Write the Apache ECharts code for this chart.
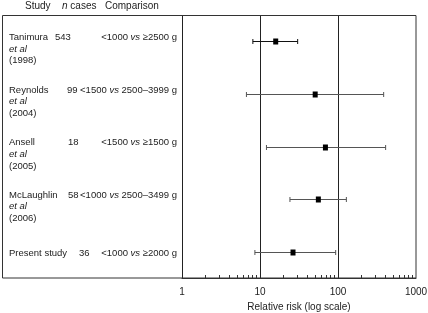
<!DOCTYPE html>
<html>
<head>
<meta charset="utf-8">
<script src="https://cdn.jsdelivr.net/npm/echarts@6/dist/echarts.min.js"></script>
<style>
  html, body { margin: 0; padding: 0; background: #fff; }
  #main { width: 428px; height: 313px; }
</style>
</head>
<body>
<div id="main"></div>
<script>
// study rows (top to bottom)
var studies = ['Tanimura', 'Reynolds', 'Ansell', 'McLaughlin', 'Present study'];
var studyYears = ['1998', '2004', '2005', '2006', ''];
var nCases = [543, 99, 18, 58, 36];
var compLeft = ['<1000', '<1500', '<1500', '<1000', '<1000'];
var compRight = ['\u22652500 g', '2500\u20133999 g', '\u22651500 g', '2500\u20133499 g', '\u22652000 g'];
// relative risk and 95% CI
var rr = [15.9, 51, 69, 56, 26.5];
var ciLow = [8.1, 6.7, 12.1, 24.2, 8.6];
var ciHigh = [30.4, 385, 408, 128, 93.4];
var xTicks = [1, 10, 100, 1000];
var minorTicks = [2, 3, 4, 5, 6, 7, 8, 9, 20, 30, 40, 50, 60, 70, 80, 90, 200, 300, 400, 500, 600, 700, 800, 900];

// left offsets of the n column (as in the original typesetting)
var nX = [55, 67, 68, 68, 79];

var font = 'Liberation Sans, Arial, Helvetica, sans-serif';
var ink = '#222';
var fs = 9.5;

var myChart = echarts.init(document.getElementById('main'));

var rows = studies.map(function (s, i) { return [rr[i], i, ciLow[i], ciHigh[i]]; });

option = {
    backgroundColor: '#fff',
    animation: false,
    grid: { left: 182, right: 12, top: 15, bottom: 35, outerBoundsMode: 'none', containLabel: false },
    xAxis: {
        type: 'log',
        logBase: 10,
        min: 1,
        max: 1000,
        name: 'Relative risk (log scale)',
        nameLocation: 'middle',
        nameGap: 23,
        nameTextStyle: { color: ink, fontSize: 10, fontFamily: font },
        axisLine: { show: true, lineStyle: { color: '#333', width: 1 } },
        axisTick: { show: false },
        axisLabel: {
            color: ink, fontSize: 10, fontFamily: font, margin: 9,
            formatter: function (v) { return xTicks.indexOf(Math.round(v)) >= 0 ? String(Math.round(v)) : ''; }
        },
        splitLine: { show: true, showMaxLine: false, lineStyle: { color: '#222', width: 1 } }
    },
    yAxis: {
        type: 'category',
        inverse: true,
        data: studies,
        axisLine: { show: false },
        axisTick: { show: false },
        axisLabel: { show: false },
        splitLine: { show: false }
    },
    graphic: [
        { type: 'rect', shape: { x: 2.5, y: 15.5, width: 413.5, height: 262.5 }, style: { fill: null, stroke: '#333', lineWidth: 1 }, z: 10 },
        { type: 'text', left: 25, top: 1, style: { text: 'Study', font: '10px ' + font, fill: ink } },
        { type: 'text', left: 62, top: 1, style: { text: '{i|n} cases', font: '10px ' + font, fill: ink, rich: { i: { fontStyle: 'italic', fontSize: 10, fontFamily: font, fill: ink } } } },
        { type: 'text', left: 105, top: 1, style: { text: 'Comparison', font: '10px ' + font, fill: ink } }
    ],
    series: [
        {
            // row labels: study, n cases, comparison
            type: 'custom',
            clip: false,
            silent: true,
            data: studies.map(function (s, i) { return [1, i]; }),
            renderItem: function (params, api) {
                var i = api.value(1);
                var y = api.coord([1, i])[1];
                var multi = studyYears[i] !== '';
                var y0 = multi ? y - 4 : y + 1.5;
                var nameText = multi ? studies[i] + '\n{i|et al}\n(' + studyYears[i] + ')' : studies[i];
                return {
                    type: 'group',
                    children: [
                        {
                            type: 'text',
                            style: {
                                x: 9, y: y0 - 5.85, text: nameText, fill: ink,
                                font: fs + 'px ' + font, lineHeight: 11.7, verticalAlign: 'top',
                                rich: { i: { fontStyle: 'italic', fontSize: fs, fontFamily: font, fill: ink, lineHeight: 11.7 } }
                            }
                        },
                        {
                            type: 'text',
                            style: { x: nX[i], y: y0, text: String(nCases[i]), fill: ink, font: fs + 'px ' + font, verticalAlign: 'middle' }
                        },
                        {
                            type: 'text',
                            style: {
                                x: 177, y: y0, text: compLeft[i] + ' {i|vs} ' + compRight[i], fill: ink,
                                font: fs + 'px ' + font, align: 'right', verticalAlign: 'middle',
                                rich: { i: { fontStyle: 'italic', fontSize: fs, fontFamily: font, fill: ink } }
                            }
                        }
                    ]
                };
            },
            z: 5
        },
        {
            // minor log ticks along the bottom axis
            type: 'custom',
            silent: true,
            data: minorTicks.map(function (v) { return [v, 0]; }),
            renderItem: function (params, api) {
                var x = Math.round(api.coord([api.value(0), 0])[0]) + 0.5;
                var yb = params.coordSys.y + params.coordSys.height;
                return {
                    type: 'line',
                    shape: { x1: x, y1: yb, x2: x, y2: yb - 3 },
                    style: { stroke: '#333', lineWidth: 1 }
                };
            },
            z: 5
        },
        {
            // estimate with 95% CI
            type: 'custom',
            silent: true,
            data: rows,
            encode: { x: 0, y: 1 },
            renderItem: function (params, api) {
                var i = api.value(1);
                var pt = api.coord([api.value(0), i]);
                var lo = api.coord([api.value(2), i]);
                var hi = api.coord([api.value(3), i]);
                var y = Math.round(pt[1]) + 0.5;
                var lc = i === 0 ? '#111' : '#555';
                return {
                    type: 'group',
                    children: [
                        { type: 'line', shape: { x1: lo[0], y1: y, x2: hi[0], y2: y }, style: { stroke: lc, lineWidth: 1 } },
                        { type: 'line', shape: { x1: lo[0], y1: y - 2.5, x2: lo[0], y2: y + 2.5 }, style: { stroke: lc, lineWidth: 1 } },
                        { type: 'line', shape: { x1: hi[0], y1: y - 2.5, x2: hi[0], y2: y + 2.5 }, style: { stroke: lc, lineWidth: 1 } },
                        { type: 'rect', shape: { x: pt[0] - 2.5, y: y - 3, width: 5, height: 6 }, style: { fill: '#000' } }
                    ]
                };
            },
            z: 6
        }
    ]
};

myChart.setOption(option, true);
</script>
</body>
</html>
